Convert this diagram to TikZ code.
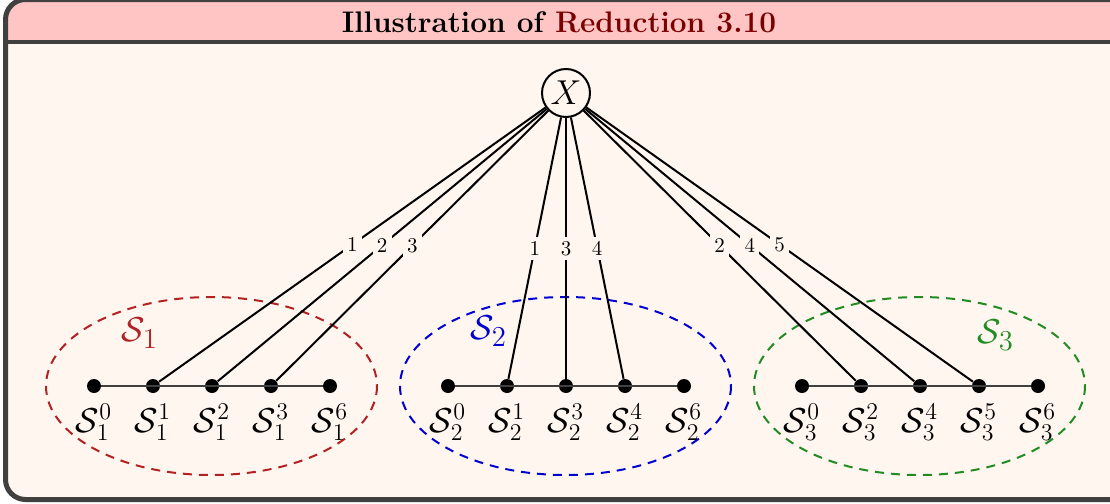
\documentclass[tikz,border=0pt]{standalone}
\usepackage{amsmath}
\usetikzlibrary{calc}
\definecolor{framegray}{HTML}{404040}
\definecolor{titlepink}{HTML}{FFC4C4}
\definecolor{bodycream}{HTML}{FFF6F0}
\definecolor{titlered}{HTML}{7A0000}
\definecolor{grpred}{HTML}{B22222}
\definecolor{grpblue}{HTML}{0000D0}
\definecolor{grpgreen}{HTML}{228B22}
\tikzset{
  dot/.style={circle,fill=black,inner sep=0pt,minimum size=7pt},
  varnode/.style={circle,draw=black,line width=1pt,fill=bodycream,minimum size=24pt,inner sep=0pt,
    font=\fontsize{16}{19}\selectfont},
  slabel/.style={anchor=base,inner sep=0pt,font=\fontsize{16.5}{19}\selectfont},
  glabel/.style={inner sep=0pt,font=\fontsize{19}{22}\selectfont},
  link/.style={line width=1pt,black},
  chain/.style={line width=0.7pt,black!75},
  elab/.style={fill=bodycream,inner sep=2.2pt,font=\fontsize{10.5}{12}\selectfont},
  group/.style={dashed,dash pattern=on 4.5pt off 3.5pt,line width=1pt},
}
\begin{document}
\begin{tikzpicture}[x=0.5pt,y=-0.5pt]
\useasboundingbox (0,0) rectangle (1110,504);
\begin{scope}
  \clip (0,0) rectangle (1110,504);
  % box body and title band
  \fill[bodycream,rounded corners=10pt] (5.5,-0.5) rectangle (1130,499.5);
  \fill[titlepink,rounded corners=10pt] (5.5,-0.5) rectangle (1130,60);
  \fill[bodycream] (5.5,42) rectangle (1130,80);
  \draw[framegray,line width=2pt] (5.5,42) -- (1130,42);
  \draw[framegray,line width=2.5pt,rounded corners=10pt] (5.5,-0.5) rectangle (1130,499.5);
\end{scope}
\node[font=\fontsize{14.9}{17}\bfseries] (title) at (559,22) {Illustration of \textcolor{titlered}{Reduction 3.10}};

% group outlines
\draw[group,grpred]   (211.5,386) ellipse [x radius=165.5,y radius=89];
\draw[group,grpblue]  (565.5,386) ellipse [x radius=165.5,y radius=89];
\draw[group,grpgreen] (919.5,386) ellipse [x radius=165.5,y radius=89];
\node[glabel,text=grpred]   (g1) at (140,333) {$\mathcal{S}_1$};
\node[glabel,text=grpblue]  (g2) at (489,331) {$\mathcal{S}_2$};
\node[glabel,text=grpgreen] (g3) at (996,335) {$\mathcal{S}_3$};

% root
\node[varnode] (X) at (566,93) {$X$};

% chains of states
\foreach \g/\xo/\idx in {1/94/{0,1,2,3,6},2/448/{0,1,3,4,6},3/802/{0,2,4,5,6}}{
  \foreach \s [count=\k from 0] in \idx {
    \node[dot] (d\g\s) at ({\xo+59*\k},386) {};
    \node[slabel] (t\g\s) at ({\xo+59*\k},432) {$\mathcal{S}_{\g}^{\s}$};
  }
}
\draw[chain] (d10) -- (d16);
\draw[chain] (d20) -- (d26);
\draw[chain] (d30) -- (d36);

% links from the root
\foreach \g/\s in {1/1,1/2,1/3,2/1,2/3,2/4,3/2,3/4,3/5}{
  \draw[link] (X) -- node[elab] {\s} (d\g\s);
}
\end{tikzpicture}
\end{document}
